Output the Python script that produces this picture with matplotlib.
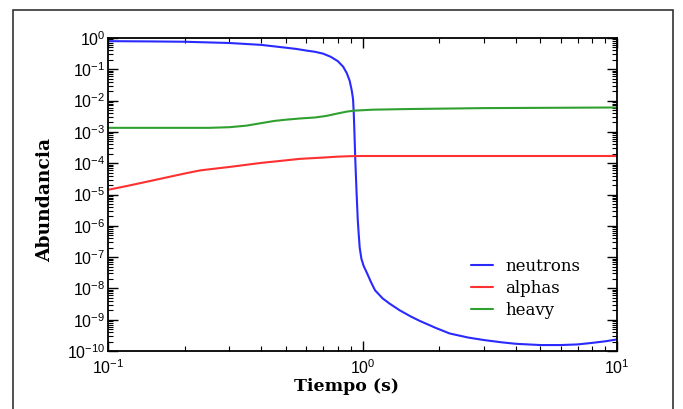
import numpy as np
import matplotlib
matplotlib.use("Agg")
import matplotlib.pyplot as plt
from matplotlib.patches import Rectangle
from matplotlib.ticker import LogLocator, NullFormatter

# ---- data ----
t_neutrons = [0.1, 0.15, 0.2, 0.3, 0.4, 0.5, 0.55, 0.6, 0.65, 0.7, 0.75, 0.8, 0.84,
              0.867, 0.89, 0.907, 0.918, 0.924, 0.929, 0.937, 0.947, 0.952, 0.958,
              0.965, 0.975, 0.99, 1.01, 1.04, 1.08, 1.12, 1.2, 1.28, 1.4, 1.55, 1.68,
              1.95, 2.2, 2.6, 3.0, 3.5, 4.0, 5.0, 6.0, 7.0, 8.0, 9.0, 10.0]
log_neutrons = [-0.10, -0.11, -0.12, -0.16, -0.22, -0.31, -0.35, -0.40, -0.44, -0.50, -0.60, -0.74, -0.92,
                -1.12, -1.36, -1.67, -1.95, -2.4, -2.95, -3.9, -4.87, -5.3, -5.8,
                -6.2, -6.7, -7.05, -7.28, -7.5, -7.8, -8.06, -8.32, -8.49, -8.7, -8.9, -9.04,
                -9.27, -9.44, -9.57, -9.65, -9.72, -9.77, -9.81, -9.81, -9.79, -9.74, -9.69, -9.63]

t_alphas = [0.1, 0.12, 0.15, 0.2, 0.23, 0.3, 0.4, 0.57, 0.7, 0.8, 0.9, 1.0, 2.0, 10.0]
log_alphas = [-4.85, -4.72, -4.55, -4.33, -4.23, -4.12, -3.99, -3.86, -3.82, -3.79, -3.775, -3.77, -3.77, -3.77]

t_heavy = [0.1, 0.25, 0.3, 0.35, 0.40, 0.45, 0.5, 0.57, 0.65, 0.72, 0.8, 0.87, 0.93,
           1.1, 1.5, 3.0, 10.0]
log_heavy = [-2.87, -2.87, -2.85, -2.80, -2.72, -2.65, -2.61, -2.57, -2.54, -2.49, -2.41, -2.35, -2.32,
             -2.29, -2.27, -2.24, -2.22]

series_names = ["neutrons", "alphas", "heavy"]
series_colors = ["#2a2aff", "#ff3030", "#30a030"]

plt.rcParams["mathtext.default"] = "regular"

fig = plt.figure(figsize=(6.83, 4.09), dpi=100)
ax = fig.add_axes([108/683, 1-351/409, 509/683, 313/409])

for t, ly, name, c in zip([t_neutrons, t_alphas, t_heavy],
                          [log_neutrons, log_alphas, log_heavy],
                          series_names, series_colors):
    ax.plot(t, 10**np.array(ly), color=c, lw=1.5, label=name,
            solid_capstyle="round", solid_joinstyle="round")

ax.set_xscale("log")
ax.set_yscale("log")
ax.set_xlim(0.1, 10)
ax.set_ylim(1e-10, 1)

ax.xaxis.set_major_locator(LogLocator(base=10, numticks=10))
ax.yaxis.set_major_locator(LogLocator(base=10, numticks=20))
ax.xaxis.set_minor_locator(LogLocator(base=10, subs=np.arange(2, 10), numticks=20))
ax.yaxis.set_minor_locator(LogLocator(base=10, subs=np.arange(2, 10), numticks=30))
ax.xaxis.set_minor_formatter(NullFormatter())
ax.yaxis.set_minor_formatter(NullFormatter())

ax.tick_params(which="both", direction="in", top=True, right=True, colors="black")
ax.tick_params(which="major", length=7, width=1.0, labelsize=11.5,
               labelfontfamily="Liberation Sans")
ax.tick_params(which="minor", length=3.5, width=0.8)
ax.tick_params(axis="y", which="major", pad=2)
ax.tick_params(axis="x", which="major", pad=5)
for s in ax.spines.values():
    s.set_linewidth(1.3)

ax.set_xlabel("Tiempo (s)", fontfamily="DejaVu Serif", fontweight="bold", fontsize=12.5)
ax.set_ylabel("Abundancia", fontfamily="DejaVu Serif", fontweight="bold", fontsize=13.5)
ax.xaxis.set_label_coords((346.5-108)/509, -0.085)
ax.yaxis.set_label_coords(-0.105, 0.482)

leg = ax.legend(loc="upper left", bbox_to_anchor=(0.714, 0.297), frameon=False,
                prop={"family": "DejaVu Serif", "size": 12}, handlelength=1.3,
                handletextpad=0.75, labelspacing=0.3, borderpad=0, borderaxespad=0)

fig.patches.append(Rectangle((13/683, -0.2), 660/683, 0.2 + 1 - 10/409,
                             transform=fig.transFigure, fill=False,
                             edgecolor="#333333", lw=1.2, clip_on=False))

fig.savefig("out.png", dpi=100)
